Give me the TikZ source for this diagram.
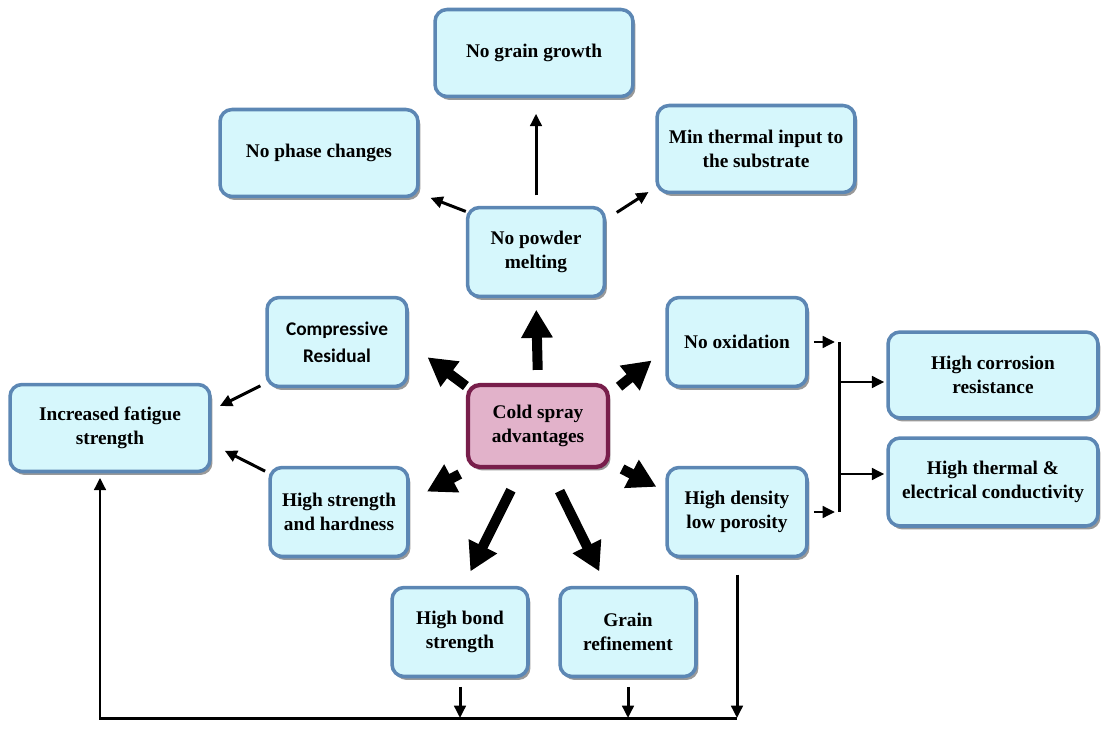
\documentclass[tikz,border=0pt]{standalone}
\usepackage{fontspec}
\setmainfont{Liberation Serif}
\newfontfamily\calibrifont{Carlito}
\usepackage{xcolor}
\usepackage{tikz}
\usetikzlibrary{
    arrows.meta,
    shadows
}
\definecolor{boxfill}{RGB}{214,247,252}
\definecolor{boxline}{RGB}{92,135,180}
\definecolor{corefill}{RGB}{226,178,202}
\definecolor{coreline}{RGB}{120,30,75}
\tikzset{benefit/.style={
    draw=boxline,
    fill=boxfill,
    line width=2pt,
    rounded corners=0.24cm,
    align=center,
    inner sep=2pt,
    font=\fontsize{11}{13.6}\selectfont\bfseries,
    drop shadow={shadow xshift=0.05cm, shadow yshift=-0.07cm, fill=black, opacity=0.4},
}}
\tikzset{core/.style={
    benefit,
    draw=coreline,
    fill=corefill,
    line width=2.4pt,
}}
\tikzset{bigarrow/.style={
    -{Triangle[length=16pt,width=17pt]},
    line width=5.7pt,
}}
\tikzset{arrow/.style={
    -{Triangle[length=7pt,width=6.5pt]},
    line width=1.7pt,
}}
\tikzset{wire/.style={
    line width=1.7pt,
}}

\begin{document}
\begin{tikzpicture}[x=0.02cm, y=-0.02cm]
    \useasboundingbox (0,0) rectangle (1101,729);

    \node[core, minimum width=2.8cm, minimum height=1.64cm] (cold) at (538,426) {Cold spray\\advantages};

    \node[benefit, minimum width=2.74cm, minimum height=1.78cm] (powder) at (536,252) {No powder\\melting};
    \node[benefit, minimum width=3.96cm, minimum height=1.74cm] (nograin) at (534,53) {No grain growth};
    \node[benefit, minimum width=3.96cm, minimum height=1.74cm] (nophase) at (319,153) {No phase changes};
    \node[benefit, minimum width=3.96cm, minimum height=1.74cm] (minthermal) at (756,149) {Min thermal input to\\the substrate};

    \node[benefit, minimum width=2.8cm, minimum height=1.78cm] (compressive) at (337,342) {\calibrifont\bfseries Compressive\\[2pt]\calibrifont\bfseries Residual};
    \node[benefit, minimum width=2.76cm, minimum height=1.78cm] (strength) at (339,512) {High strength\\and hardness};
    \node[benefit, minimum width=4.0cm, minimum height=1.74cm] (fatigue) at (110,428) {Increased fatigue\\strength};

    \node[benefit, minimum width=2.8cm, minimum height=1.78cm] (oxidation) at (737,342) {No oxidation};
    \node[benefit, minimum width=2.8cm, minimum height=1.78cm] (density) at (737,512) {High density\\low porosity};
    \node[benefit, minimum width=4.2cm, minimum height=1.72cm] (corrosion) at (993,375) {High corrosion\\resistance};
    \node[benefit, minimum width=4.2cm, minimum height=1.76cm] (thermal) at (993,482) {High thermal \&\\electrical conductivity};

    \node[benefit, minimum width=2.72cm, minimum height=1.78cm] (bond) at (460,632) {High bond\\strength};
    \node[benefit, minimum width=2.72cm, minimum height=1.78cm] (grain) at (628,632) {Grain\\refinement};

    \draw[bigarrow, shorten <=0.26cm, shorten >=0.23cm] (cold.north) -- (powder.south);
    \draw[bigarrow, shorten >=0.47cm] (cold.151) -- (compressive.-1);
    \draw[bigarrow, shorten <=0.23cm, shorten >=0.35cm] (cold.24) -- (oxidation.-174);
    \draw[bigarrow, shorten <=0.21cm, shorten >=0.39cm] (cold.-148) -- (strength.9);
    \draw[bigarrow, shorten <=0.27cm, shorten >=0.2cm] (cold.-27) -- (density.164);
    \draw[bigarrow, shorten <=0.47cm, shorten >=0.32cm] (cold.-111) -- (bond.86);
    \draw[bigarrow, shorten <=0.49cm, shorten >=0.32cm] (cold.-76) -- (grain.115);

    \draw[arrow, shorten <=0.21cm, shorten >=0.31cm] (powder.north) -- (powder.north |- nograin.south);
    \draw[arrow, shorten >=0.23cm] (powder.150) -- (nophase.-22);
    \draw[arrow, shorten <=0.25cm, shorten >=0.16cm] (powder.25) -- (minthermal.-159);

    \draw[arrow, shorten <=0.11cm, shorten >=0.18cm] (compressive.-150) -- (fatigue.10);
    \draw[arrow, shorten <=0.07cm, shorten >=0.29cm] (strength.151) -- (fatigue.-9);

    \coordinate (busA) at (839,382);
    \coordinate (busB) at (839,474);
    \draw[arrow, shorten <=0.1cm, shorten >=0.08cm] (oxidation.east) -- (oxidation.east -| busA);
    \draw[arrow, shorten <=0.1cm, shorten >=0.08cm] (density.east) -- (density.east -| busA);
    \draw[wire] (oxidation.east -| busA) -- (density.east -| busA);
    \draw[arrow, shorten >=0.04cm] (busA) -- (busA -| corrosion.west);
    \draw[arrow, shorten >=0.04cm] (busB) -- (busB -| thermal.west);

    \coordinate (lowleft) at (100,718);
    \draw[arrow, shorten <=0.17cm] (bond.south) -- (bond.south |- lowleft);
    \draw[arrow, shorten <=0.17cm] (grain.south) -- (grain.south |- lowleft);
    \draw[arrow, shorten <=0.33cm] (density.south) -- (density.south |- lowleft);
    \draw[arrow, shorten >=0.09cm] (density.south |- lowleft) -- (lowleft) -- (lowleft |- fatigue.south);
\end{tikzpicture}
\end{document}
